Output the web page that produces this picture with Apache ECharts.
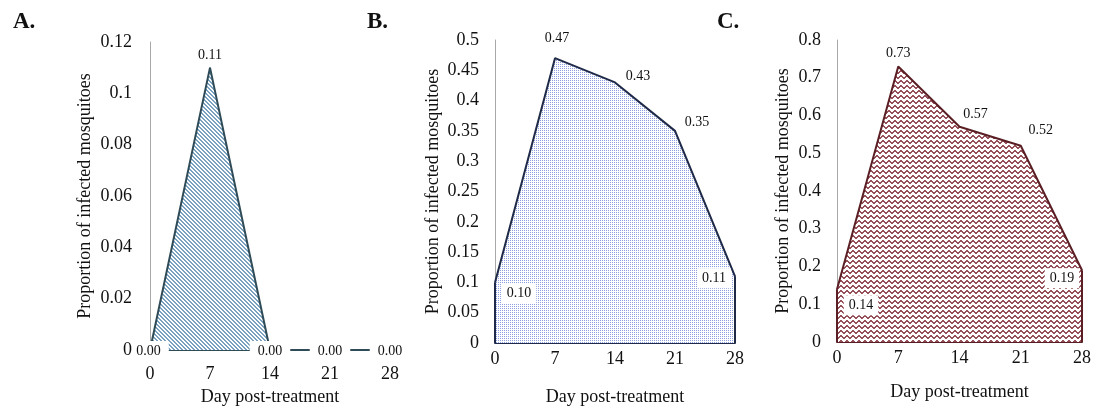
<!DOCTYPE html>
<html>
<head>
<meta charset="utf-8">
<script src="https://cdn.jsdelivr.net/npm/echarts@6/dist/echarts.min.js"></script>
<style>
  html, body { margin: 0; padding: 0; background: #fff; }
  #chart { width: 1097px; height: 407px; }
</style>
</head>
<body>
<div id="chart"></div>
<script>
// data
const days = [0, 7, 14, 21, 28];
const panelA = [0.00, 0.11, 0.00, 0.00, 0.00];
const panelB = [0.10, 0.47, 0.43, 0.35, 0.11];
const panelC = [0.14, 0.73, 0.57, 0.52, 0.19];
const panelNames = ['A.', 'B.', 'C.'];
const xName = 'Day post-treatment';
const yName = 'Proportion of infected mosquitoes';

const FONT = '"Liberation Serif", "Times New Roman", serif';

// small pixel patterns for the area fills
function makePattern (w, h, color, fn) {
  const c = document.createElement('canvas');
  c.width = w; c.height = h;
  const ctx = c.getContext('2d');
  ctx.fillStyle = '#fff';
  ctx.fillRect(0, 0, w, h);
  ctx.fillStyle = color;
  for (let y = 0; y < h; y++) {
    for (let x = 0; x < w; x++) {
      if (fn(x, y)) ctx.fillRect(x, y, 1, 1);
    }
  }
  return c;
}
const zig = [0, 0, 1, 2, 2, 1];
const patA = makePattern(4, 4, '#7aa2c0', (x, y) => ((x - y) % 4 + 4) % 4 < 2); // diagonal hatch
const patB = makePattern(2, 2, '#8d9fe0', (x, y) => x === 0 && y === 0); // dots
const patC = makePattern(6, 5, '#955059', (x, y) => y === zig[x] || y === zig[x] + 1); // zigzag

// label placement for each point (offsets from point)
const boxLabel = { backgroundColor: '#fff', padding: [3, 5, 3, 5] };
const zeroBox = { backgroundColor: '#fff', padding: [3, 8, 3, 8] };
const labA = [
  Object.assign({ position: 'inside', offset: [2, 1] }, zeroBox, { padding: [3, 8, 3, 1] }),
  { position: 'inside', offset: [0, -12] },
  Object.assign({ position: 'inside', offset: [0, 1] }, zeroBox),
  Object.assign({ position: 'inside', offset: [0, 1] }, zeroBox),
  Object.assign({ position: 'inside', offset: [0, 1] }, zeroBox),
];
const labB = [
  Object.assign({ position: 'inside', offset: [24, 11] }, boxLabel),
  { position: 'inside', offset: [2, -20] },
  { position: 'inside', offset: [23, -6] },
  { position: 'inside', offset: [22, -9] },
  Object.assign({ position: 'inside', offset: [-21, 2] }, boxLabel),
];
const labC = [
  Object.assign({ position: 'inside', offset: [24, 16] }, boxLabel),
  { position: 'inside', offset: [0, -13] },
  { position: 'inside', offset: [16, -12] },
  { position: 'inside', offset: [20, -15] },
  Object.assign({ position: 'inside', offset: [-20, 8] }, boxLabel),
];

const panels = [
  { vals: panelA, max: 0.12, step: 0.02, line: '#2f4b58', fill: patA, lab: labA,
    grid: { left: 150, right: 707, top: 42, bottom: 57 }, xMargin: 15, xGap: 26, yGap: 56, yMargin: 18, title: 8 },
  { vals: panelB, max: 0.5, step: 0.05, line: '#1f2a48', fill: patB, lab: labB,
    grid: { left: 495, right: 362, top: 40, bottom: 64 }, xMargin: 7, xGap: 45, yGap: 53, yMargin: 16, title: 362 },
  { vals: panelC, max: 0.8, step: 0.1, line: '#5a1f24', fill: patC, lab: labC,
    grid: { left: 837, right: 15, top: 40, bottom: 65 }, xMargin: 7, xGap: 41, yGap: 45, yMargin: 16, title: 712 },
];

const option = {
  animation: false,
  backgroundColor: '#fff',
  textStyle: { fontFamily: FONT },
  title: panels.map((p, i) => ({
    text: panelNames[i], left: p.title, top: 6,
    textStyle: { fontFamily: FONT, fontSize: 23, fontWeight: 'bold', color: '#111' },
  })),
  grid: panels.map(p => Object.assign({ outerBoundsMode: 'none', containLabel: false }, p.grid)),
  xAxis: panels.map((p, i) => ({
    type: 'value', gridIndex: i, min: 0, max: 28, interval: 7,
    name: xName, nameLocation: 'middle', nameGap: p.xGap,
    nameTextStyle: { fontFamily: FONT, fontSize: 18, color: '#111' },
    axisLine: { show: true, lineStyle: { color: p.line, width: 2 } },
    axisTick: { show: false },
    splitLine: { show: false },
    axisLabel: { fontFamily: FONT, fontSize: 18, color: '#111', margin: p.xMargin },
  })),
  yAxis: panels.map((p, i) => ({
    type: 'value', gridIndex: i, min: 0, max: p.max, interval: p.step,
    name: yName, nameLocation: 'middle', nameGap: p.yGap,
    nameTextStyle: { fontFamily: FONT, fontSize: 18, color: '#111' },
    axisLine: { show: true, lineStyle: { color: '#a8a8a8', width: 1 } },
    axisTick: { show: false },
    splitLine: { show: false },
    axisLabel: { fontFamily: FONT, fontSize: 18, color: '#111', margin: p.yMargin },
  })),
  series: panels.map((p, i) => {
    const last = p.vals.length - 1;
    const edges = [];
    if (p.vals[0] > 0) edges.push([{ coord: [days[0], 0] }, { coord: [days[0], p.vals[0]] }]);
    if (p.vals[last] > 0) edges.push([{ coord: [days[last], 0] }, { coord: [days[last], p.vals[last]] }]);
    return {
      type: 'line', xAxisIndex: i, yAxisIndex: i,
      data: p.vals.map((v, k) => ({ value: [days[k], v], label: p.lab[k] })),
      symbol: 'circle', symbolSize: 1,
      itemStyle: { color: p.line },
      lineStyle: { color: p.line, width: 2 },
      areaStyle: { color: { image: p.fill, repeat: 'repeat' }, opacity: 1 },
      label: {
        show: true, fontFamily: FONT, fontSize: 14, color: '#111',
        formatter: d => d.value[1].toFixed(2),
      },
      markLine: {
        silent: true, symbol: 'none', label: { show: false },
        lineStyle: { color: p.line, width: 2, type: 'solid' },
        data: edges,
      },
      z: 3,
    };
  }),
};

const chart = echarts.init(document.getElementById('chart'), null, { renderer: 'canvas' });
chart.setOption(option);
</script>
</body>
</html>
